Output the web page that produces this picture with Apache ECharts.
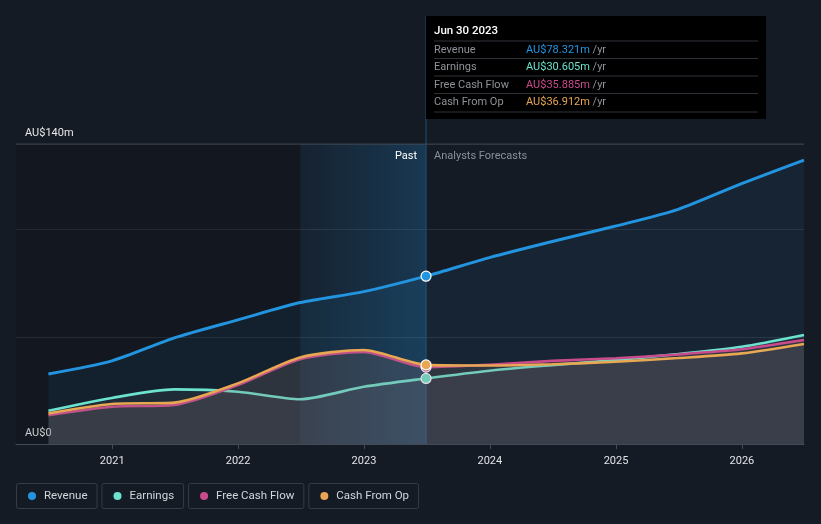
<!DOCTYPE html>
<html>
<head>
<meta charset="utf-8">
<script src="https://cdn.jsdelivr.net/npm/echarts@6/dist/echarts.min.js"></script>
<style>
html,body{margin:0;padding:0;background:#151b25;}
#c{width:821px;height:524px;}
</style>
</head>
<body>
<div id="c"></div>
<script>
// ---- data ----
const dates = ['2020-06-30','2020-12-31','2021-06-30','2021-12-31','2022-06-30','2022-12-31','2023-06-30','2023-12-31','2024-06-30','2024-12-31','2025-06-30','2025-12-31','2026-06-30'];
const revenue = [32.7, 38.8, 49.5, 57.9, 66.0, 71.1, 78.321, 87.0, 94.5, 101.7, 109.5, 121.5, 132.5];
const earnings = [15.5, 21.5, 25.5, 24.4, 20.9, 26.7, 30.605, 34.2, 36.8, 39.2, 42.0, 45.4, 50.9];
const freeCashFlow = [13.4, 17.4, 18.2, 27.5, 39.6, 43.0, 35.885, 37.0, 38.8, 40.0, 41.8, 44.2, 48.5];
const cashFromOp = [14.3, 18.7, 19.3, 28.3, 40.4, 43.9, 36.912, 36.6, 37.2, 38.4, 40.1, 42.3, 46.7];
const seriesNames = ['Revenue','Earnings','Free Cash Flow','Cash From Op'];
const seriesColors = ['#2394DF','#6CE3CF','#C94B8C','#E8A752'];
const yTickValues = [0, 140];
const yTickLabels = ['AU$0', 'AU$140m'];
const xAxisMin = '2020-03-28';
const xAxisMax = '2026-06-30';
const pastBandStart = '2022-06-30';
const highlightDate = '2023-06-30';
const highlightLabel = 'Jun 30 2023';
const pastLabel = 'Past';
const forecastLabel = 'Analysts Forecasts';
const valuePrefix = 'AU$', valueSuffix = 'm', perYear = ' /yr';

const FONT = 'Roboto, "Noto Sans", sans-serif';
const allValues = [revenue, earnings, freeCashFlow, cashFromOp];
const hiIdx = dates.indexOf(highlightDate);
const areaColors = [
  'rgba(35,148,223,0.11)',
  'rgba(128,128,132,0.17)',
  'rgba(150,110,125,0.17)',
  'rgba(135,125,120,0.17)'
];

const chart = echarts.init(document.getElementById('c'), null, {renderer: 'canvas'});

const series = seriesNames.map((name, i) => ({
  name: name,
  type: 'line',
  smooth: 0.25,
  data: dates.map((d, k) => [d, allValues[i][k]]),
  showSymbol: true,
  symbol: 'circle',
  symbolSize: (v, p) => p.dataIndex === hiIdx ? 10 : 0,
  itemStyle: {color: seriesColors[i], borderColor: '#ffffff', borderWidth: 1.2},
  lineStyle: {color: seriesColors[i], width: i === 0 ? 3 : 2.6},
  areaStyle: {color: areaColors[i], origin: 'start'},
  emphasis: {disabled: true},
  z: 2 + i,
  markArea: i === 0 ? {
    silent: true,
    data: [
      [{xAxis: xAxisMin, itemStyle: {color: 'rgba(0,0,0,0.13)'}}, {xAxis: pastBandStart}],
      [{xAxis: pastBandStart, itemStyle: {color: new echarts.graphic.LinearGradient(0, 0, 1, 0, [
        {offset: 0, color: 'rgba(35,148,223,0.06)'},
        {offset: 1, color: 'rgba(35,148,223,0.24)'}
      ])}}, {xAxis: highlightDate}]
    ]
  } : undefined
}));

chart.setOption({
  backgroundColor: '#151b25',
  animation: false,
  grid: {left: 16, right: 17, top: 144, bottom: 80, containLabel: false},
  xAxis: {
    type: 'time',
    min: xAxisMin,
    max: xAxisMax,
    minInterval: 365 * 24 * 3600 * 1000,
    maxInterval: 366 * 24 * 3600 * 1000,
    axisLine: {lineStyle: {color: '#454b55', width: 1}},
    axisTick: {show: true, length: 5, lineStyle: {color: '#454b55'}},
    axisLabel: {color: '#e2e4e8', fontFamily: FONT, fontSize: 11, margin: 12, formatter: '{yyyy}', hideOverlap: false, showMinLabel: false, showMaxLabel: false},
    splitLine: {show: false}
  },
  yAxis: {
    type: 'value',
    min: 0,
    max: 140,
    interval: 50,
    axisLine: {show: false},
    axisTick: {show: false},
    axisLabel: {
      inside: true, verticalAlign: 'bottom', margin: 9, padding: [0, 0, 5, 0],
      color: '#e8e8e8', fontFamily: FONT, fontSize: 11,
      formatter: v => { const j = yTickValues.indexOf(v); return j >= 0 ? yTickLabels[j] : ''; }
    },
    splitLine: {show: true, lineStyle: {color: '#2a303a', width: 1}}
  },
  series: series
});

// overlay elements positioned from the axes
const xHi = chart.convertToPixel({xAxisIndex: 0}, highlightDate);
const yTop = chart.convertToPixel({yAxisIndex: 0}, 140);
const yBottom = chart.convertToPixel({yAxisIndex: 0}, 0);

const canvas = document.createElement('canvas');
const ctx = canvas.getContext('2d');
function tw(t, size) { ctx.font = size + 'px ' + FONT; return ctx.measureText(t).width; }

const g = [];
// top gridline (140)
g.push({type: 'line', shape: {x1: 16, y1: yTop, x2: 804, y2: yTop}, style: {stroke: '#3a404a', lineWidth: 1}, z: 1});
// vertical marker line
g.push({type: 'line', shape: {x1: xHi, y1: 16, x2: xHi, y2: yBottom}, style: {stroke: '#1f4f78', lineWidth: 1}, z: 1});
// Past / forecast labels
g.push({type: 'text', x: xHi - 9, y: yTop + 12, style: {text: pastLabel, fill: '#ffffff', font: '11px ' + FONT, align: 'right', verticalAlign: 'middle'}, z: 20});
g.push({type: 'text', x: xHi + 8, y: yTop + 12, style: {text: forecastLabel, fill: '#8a9099', font: '11px ' + FONT, align: 'left', verticalAlign: 'middle'}, z: 20});

// tooltip box
const tipX = xHi, tipY = 16, tipW = 340, tipH = 103;
g.push({type: 'rect', shape: {x: tipX, y: tipY, width: tipW, height: tipH}, style: {fill: '#000000'}, z: 30});
g.push({type: 'text', x: tipX + 8, y: tipY + 15, style: {text: highlightLabel, fill: '#ffffff', font: '500 11.5px ' + FONT, verticalAlign: 'middle'}, z: 31});
const rowY0 = tipY + 25, rowH = 17.5;
for (let i = 0; i < seriesNames.length; i++) {
  const ly = rowY0 + i * rowH;
  g.push({type: 'line', shape: {x1: tipX + 8, y1: ly, x2: tipX + tipW - 8, y2: ly}, style: {stroke: '#2e3238', lineWidth: 1}, z: 31});
  const cy = ly + rowH / 2;
  g.push({type: 'text', x: tipX + 8, y: cy, style: {text: seriesNames[i], fill: '#8e9298', font: '11px ' + FONT, verticalAlign: 'middle'}, z: 31});
  const valText = valuePrefix + allValues[i][hiIdx].toFixed(3) + valueSuffix;
  g.push({type: 'text', x: tipX + 100, y: cy, style: {text: valText, fill: seriesColors[i], font: '11px ' + FONT, verticalAlign: 'middle'}, z: 31});
  g.push({type: 'text', x: tipX + 100 + tw(valText, 11), y: cy, style: {text: perYear, fill: '#8e9298', font: '11px ' + FONT, verticalAlign: 'middle'}, z: 31});
}
const lastLine = rowY0 + seriesNames.length * rowH + 1;
g.push({type: 'line', shape: {x1: tipX + 8, y1: lastLine, x2: tipX + tipW - 8, y2: lastLine}, style: {stroke: '#2e3238', lineWidth: 1}, z: 31});

// legend boxes
let lx = 16;
const ly = 483, lh = 25;
for (let i = 0; i < seriesNames.length; i++) {
  const w = 28 + tw(seriesNames[i], 11.5) + 9;
  g.push({type: 'rect', shape: {x: lx + 0.5, y: ly + 0.5, width: w, height: lh, r: 2}, style: {fill: 'transparent', stroke: '#363c46', lineWidth: 1}, z: 20});
  g.push({type: 'circle', shape: {cx: lx + 16, cy: ly + lh / 2 + 0.5, r: 4}, style: {fill: seriesColors[i]}, z: 21});
  g.push({type: 'text', x: lx + 28, y: ly + lh / 2 + 0.5, style: {text: seriesNames[i], fill: '#d3d6db', font: '11.5px ' + FONT, verticalAlign: 'middle'}, z: 21});
  lx += w + 5;
}

chart.setOption({graphic: {elements: g}});
</script>
</body>
</html>
